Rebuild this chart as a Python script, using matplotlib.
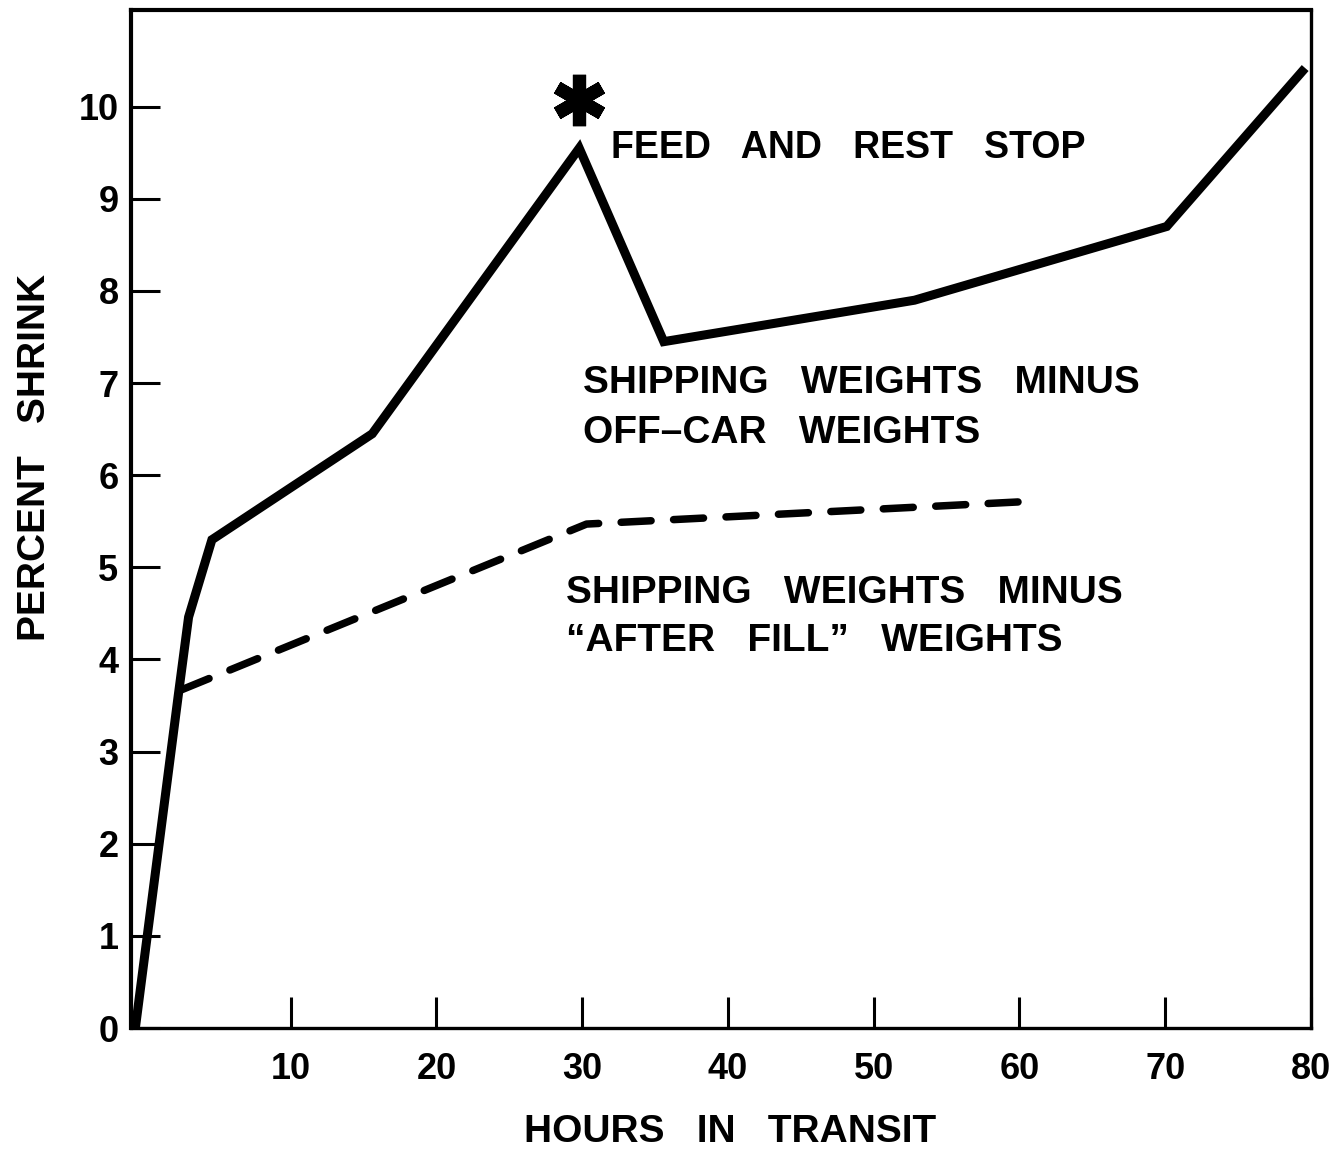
"""Percent shrink of cattle vs hours in transit (rail shipment)."""

import matplotlib
matplotlib.use("Agg")
import matplotlib.pyplot as plt
from matplotlib.markers import MarkerStyle
from matplotlib.transforms import offset_copy

# ---- data ----
# shipping weights minus off-car weights (solid line)
solid_hours = [-0.65, 2.3, 3.0, 4.6, 15.6, 29.8, 35.6, 52.8, 70.1, 79.6]
solid_shrink = [0.0, 3.62, 4.46, 5.3, 6.45, 9.55, 7.45, 7.9, 8.7, 10.42]

# shipping weights minus "after fill" weights (dashed line)
dashed_hours = [2.5, 30.3, 59.9]
dashed_shrink = [3.67, 5.47, 5.71]

peak_idx = 5  # the feed and rest stop

x_ticks = [10, 20, 30, 40, 50, 60, 70, 80]
y_ticks = [0, 1, 2, 3, 4, 5, 6, 7, 8, 9, 10]

stop_label = "FEED   AND   REST   STOP"
solid_label = ["SHIPPING   WEIGHTS   MINUS", "OFF\u2013CAR   WEIGHTS"]
dashed_label = ["SHIPPING   WEIGHTS   MINUS", "\u201cAFTER   FILL\u201d   WEIGHTS"]

plt.rcParams["font.family"] = ["Liberation Sans", "DejaVu Sans"]
plt.rcParams["font.weight"] = "bold"
plt.rcParams["axes.labelweight"] = "bold"

fig = plt.figure(figsize=(13.43, 11.5), dpi=100)
ax = fig.add_axes([131 / 1343, 122 / 1150, 1180 / 1343, 1018 / 1150])

ax.plot(solid_hours, solid_shrink, color="black", lw=6.5,
        solid_joinstyle="miter", solid_capstyle="butt", clip_on=False)
ax.plot(dashed_hours, dashed_shrink, color="black", lw=5.4,
        dashes=(4, 3), dash_capstyle="round", dash_joinstyle="round")

# asterisk above the peak
star = MarkerStyle((6, 2, 0), capstyle="round")
above = offset_copy(ax.transData, fig=fig, x=0, y=35, units="points")
ax.plot([solid_hours[peak_idx]], [solid_shrink[peak_idx]], marker=star,
        markersize=37, markeredgewidth=9.5, color="black",
        transform=above, clip_on=False)

ax.set_xlim(-0.95, 80)
ax.set_ylim(0, 11.05)
ax.set_xticks(x_ticks)
ax.set_yticks(y_ticks)
ax.tick_params(axis="both", direction="in", width=2.2, labelsize=26,
               color="black")
ax.tick_params(axis="y", length=21, pad=9)
ax.tick_params(axis="x", length=22, pad=17)

for side in ["left", "top"]:
    ax.spines[side].set_linewidth(3.0)
for side in ["right", "bottom"]:
    ax.spines[side].set_linewidth(2.4)

ax.set_xlabel("HOURS   IN   TRANSIT", fontsize=28, fontweight="bold")
ax.xaxis.set_label_coords(0.508, -0.084)
ax.set_ylabel("PERCENT   SHRINK", fontsize=28, fontweight="bold")
ax.yaxis.set_label_coords(-0.066, 0.56)

# labels next to the curves
ax.text(32.0, 9.55, stop_label, fontsize=27, va="center", ha="left")
ax.text(30.05, 7.0, solid_label[0], fontsize=28, va="center", ha="left")
ax.text(30.05, 6.46, solid_label[1], fontsize=28, va="center", ha="left")
ax.text(28.9, 4.72, dashed_label[0], fontsize=28, va="center", ha="left")
ax.text(28.9, 4.2, dashed_label[1], fontsize=28, va="center", ha="left")

fig.savefig("out.png", dpi=100)
plt.close(fig)
